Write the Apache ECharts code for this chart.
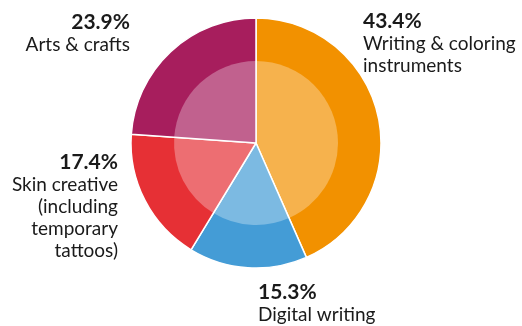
<!DOCTYPE html>
<html>
<head>
<meta charset="utf-8">
<script src="https://cdn.jsdelivr.net/npm/echarts@6/dist/echarts.min.js"></script>
<style>
  html, body { margin: 0; padding: 0; background: #fff; }
  #chart { width: 522px; height: 326px; }
</style>
</head>
<body>
<div id="chart"></div>
<script>
// Category names (label lines), shares in percent, ring colours
const categories = [
  ['Writing & coloring', 'instruments'],
  ['Digital writing'],
  ['Skin creative', '(including', 'temporary', 'tattoos)'],
  ['Arts & crafts']
];
const shares = [43.4, 15.3, 17.4, 23.9];
const sliceColors = ['#F29100', '#449CD6', '#E63035', '#A71E5D'];

// Label anchor per category: x, baseline of the value line, text alignment
const labelAnchors = [
  { x: 363, y: 29, align: 'left' },
  { x: 258, y: 300, align: 'left' },
  { x: 118, y: 170, align: 'right' },
  { x: 130, y: 30, align: 'right' }
];

const FONT = 'Lato, "Noto Sans", sans-serif';
const TEXT_COLOR = '#1a1a1a';
const LINE_GAP = 22;
const VALUE_SIZE = 21, NAME_SIZE = 19;
// distance from the top of a text box to its baseline
const VALUE_ASCENT = 18, NAME_ASCENT = 16.5;

const chart = echarts.init(document.getElementById('chart'), null, { renderer: 'canvas' });

// Text blocks: bold value then the category lines
const graphics = [];
shares.forEach((v, i) => {
  const a = labelAnchors[i];
  graphics.push({
    type: 'text',
    x: a.x, y: a.y - VALUE_ASCENT,
    style: {
      text: v.toFixed(1) + '%',
      font: 'bold ' + VALUE_SIZE + 'px ' + FONT,
      fill: TEXT_COLOR,
      align: a.align,
      verticalAlign: 'top'
    }
  });
  categories[i].forEach((line, j) => {
    graphics.push({
      type: 'text',
      x: a.x, y: a.y + LINE_GAP * (j + 1) - NAME_ASCENT,
      style: {
        text: line,
        font: NAME_SIZE + 'px ' + FONT,
        fill: TEXT_COLOR,
        align: a.align,
        verticalAlign: 'top'
      }
    });
  });
});

const pieBase = {
  type: 'pie',
  center: [256, 143],
  startAngle: 90,
  clockwise: true,
  silent: true,
  label: { show: false },
  labelLine: { show: false }
};

chart.setOption({
  animation: false,
  series: [
    // full slices with white separators
    Object.assign({}, pieBase, {
      radius: [0, 125],
      itemStyle: { borderColor: '#fff', borderWidth: 1.5 },
      data: shares.map((v, i) => ({
        name: categories[i].join(' '),
        value: v,
        itemStyle: { color: sliceColors[i] }
      }))
    }),
    // lighter inner disc: translucent white over the same slices
    Object.assign({}, pieBase, {
      radius: [0, 82],
      itemStyle: { color: 'rgba(255,255,255,0.3)', borderWidth: 0 },
      data: shares.map((v, i) => ({ name: categories[i].join(' '), value: v }))
    })
  ],
  graphic: graphics
});
</script>
</body>
</html>
